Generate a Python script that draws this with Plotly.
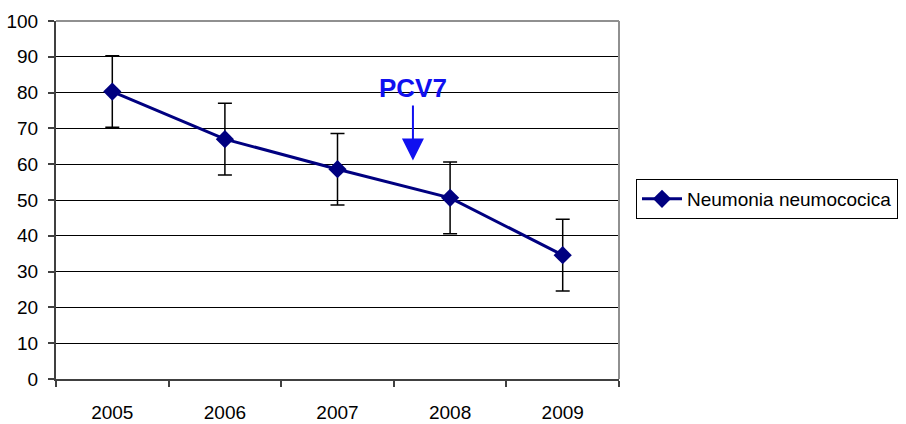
import plotly.graph_objects as go

years = ["2005", "2006", "2007", "2008", "2009"]
rates = [80.3, 67.0, 58.6, 50.6, 34.6]
errors = [10, 10, 10, 10, 10]
y_ticks = [0, 10, 20, 30, 40, 50, 60, 70, 80, 90, 100]
series_name = "Neumonia neumococica"

# vaccine introduction marker (between 2007 and 2008)
pcv7_x = 2.67
pcv7_tip = 61.0
pcv7_tail = 76.8
pcv7_label_y = 81.3

FONT = "Liberation Sans, Arial, sans-serif"
NAVY = "#000080"

pos = list(range(len(years)))

fig = go.Figure()
fig.add_trace(go.Scatter(
    x=pos, y=rates, name=series_name, mode="lines+markers",
    line=dict(color=NAVY, width=3),
    marker=dict(symbol="diamond", size=14, color=NAVY),
    error_y=dict(type="data", array=errors, visible=True,
                 color="black", thickness=1.5, width=7),
))

fig.add_annotation(x=pcv7_x, y=pcv7_tip, ax=pcv7_x, ay=pcv7_tail,
                   xref="x", yref="y", axref="x", ayref="y",
                   text="", showarrow=True, arrowhead=2, arrowsize=2.2,
                   arrowwidth=2, arrowcolor="#1010F0")
fig.add_annotation(x=pcv7_x, y=pcv7_label_y, xref="x", yref="y",
                   text="<b>PCV7</b>", showarrow=False,
                   font=dict(family=FONT, size=26, color="#1010F0"))

# light frame on top and right of the plotting area
fig.add_shape(type="line", xref="paper", yref="paper", x0=0, x1=1, y0=1, y1=1,
              line=dict(color="#909090", width=2))
fig.add_shape(type="line", xref="paper", yref="paper", x0=1, x1=1, y0=0, y1=1,
              line=dict(color="#909090", width=2))

fig.update_layout(
    width=906, height=424,
    margin=dict(l=56, r=287, t=21, b=45, autoexpand=False),
    paper_bgcolor="white", plot_bgcolor="white",
    font=dict(family=FONT, size=19, color="black"),
    showlegend=True,
    legend=dict(xref="container", yref="container", x=636 / 906, y=1 - 199 / 424,
                xanchor="left", yanchor="middle", itemwidth=40,
                bordercolor="black", borderwidth=1, bgcolor="white",
                font=dict(family=FONT, size=19, color="black")),
    xaxis=dict(range=[-0.5, len(years) - 0.5], tickvals=pos, ticktext=years,
               ticks="", showgrid=False, zeroline=False, automargin=False,
               showline=True, linecolor="#404040", linewidth=2,
               ticklabelstandoff=15,
               minor=dict(tickvals=[p - 0.5 for p in range(len(years) + 1)],
                          ticks="outside", ticklen=6, tickcolor="#404040",
                          tickwidth=1.5, showgrid=False)),
    yaxis=dict(range=[0, 100], tickvals=y_ticks, ticks="outside", ticklen=6,
               tickcolor="#404040", tickwidth=1.5, automargin=False,
               showgrid=True, gridcolor="black", gridwidth=1,
               zeroline=False, showline=True, linecolor="#404040", linewidth=2,
               ticklabelstandoff=6),
)

fig.write_html("out.html")
